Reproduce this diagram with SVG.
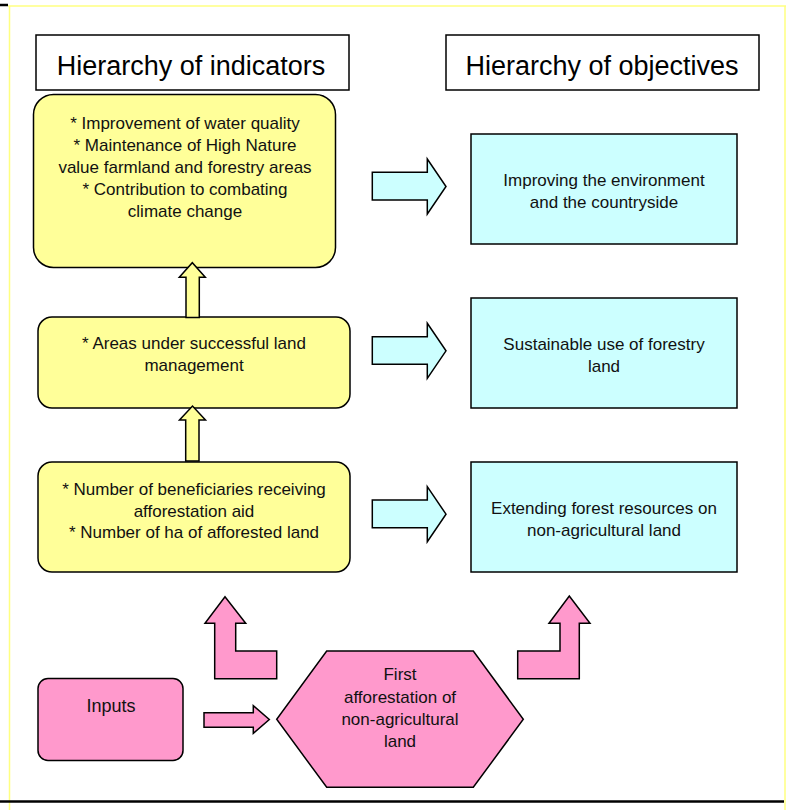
<svg xmlns="http://www.w3.org/2000/svg" width="786" height="810" viewBox="0 0 786 810">
<style>
.frame-y{stroke:#FFFF80;stroke-width:1.5;fill:none}
.frame-k{stroke:#000;stroke-width:2.5;fill:none}
.hdr{fill:#fff;stroke:#000;stroke-width:1.5}
.hdr-t{font-family:"Liberation Sans",Arial,sans-serif;font-size:27px;fill:#000;text-anchor:middle}
.yel{fill:#FFFF99;stroke:#000;stroke-width:1.5}
.cya{fill:#CCFFFF;stroke:#000;stroke-width:1.5}
.pnk{fill:#FF99CC;stroke:#000;stroke-width:1.5}
.t{font-family:"Liberation Sans",Arial,sans-serif;font-size:17px;fill:#111;text-anchor:middle}
</style>
<rect width="786" height="810" fill="#fff"/>
<g id="frame">
<line class="frame-y" x1="8" y1="6" x2="786" y2="6"/>
<line class="frame-y" x1="9.5" y1="6" x2="9.5" y2="810"/>
<line class="frame-y" x1="785" y1="6" x2="785" y2="810"/>
<line class="frame-k" x1="0" y1="5" x2="8" y2="5"/>
<line class="frame-k" x1="0" y1="801.5" x2="784" y2="801.5"/>
</g>
<g id="header-indicators">
<rect class="hdr" x="36" y="35" width="313" height="55"/>
<text class="hdr-t" x="191" y="75">Hierarchy of indicators</text>
</g>
<g id="header-objectives">
<rect class="hdr" x="446" y="35" width="313" height="55"/>
<text class="hdr-t" x="602" y="75">Hierarchy of objectives</text>
</g>
<g id="ind-impact">
<rect class="yel" x="33.5" y="94.5" width="302" height="173" rx="20"/>
<text class="t" x="185" y="129">* Improvement of water quality</text>
<text class="t" x="185" y="151">* Maintenance of High Nature</text>
<text class="t" x="185" y="173">value farmland and forestry areas</text>
<text class="t" x="185" y="195">* Contribution to combating</text>
<text class="t" x="185" y="217">climate change</text>
</g>
<g id="ind-result">
<rect class="yel" x="38" y="317" width="312" height="91" rx="14"/>
<text class="t" x="194" y="349">* Areas under successful land</text>
<text class="t" x="194" y="371">management</text>
</g>
<g id="ind-output">
<rect class="yel" x="38" y="462" width="312" height="110" rx="14"/>
<text class="t" x="194" y="495">* Number of beneficiaries receiving</text>
<text class="t" x="194" y="517">afforestation aid</text>
<text class="t" x="194" y="538">* Number of ha of afforested land</text>
</g>
<g id="obj-general">
<rect class="cya" x="471" y="134" width="266" height="110"/>
<text class="t" x="604" y="186">Improving the environment</text>
<text class="t" x="604" y="208">and the countryside</text>
</g>
<g id="obj-specific">
<rect class="cya" x="471" y="298" width="266" height="110"/>
<text class="t" x="604" y="350">Sustainable use of forestry</text>
<text class="t" x="604" y="372">land</text>
</g>
<g id="obj-operational">
<rect class="cya" x="471" y="462" width="266" height="110"/>
<text class="t" x="604" y="514">Extending forest resources on</text>
<text class="t" x="604" y="536">non-agricultural land</text>
</g>
<g id="inputs">
<rect class="pnk" x="38" y="678.5" width="145" height="82" rx="10"/>
<text class="t" x="111" y="712" style="font-size:18px">Inputs</text>
</g>
<g id="measure">
<polygon class="pnk" points="326.7,651 473.3,651 523.3,719.3 473.3,787.3 326.7,787.3 276.7,719.3"/>
<text class="t" x="400" y="680">First</text>
<text class="t" x="400" y="702.5">afforestation of</text>
<text class="t" x="400" y="725">non-agricultural</text>
<text class="t" x="400" y="746.5">land</text>
</g>
<g id="connectors">
<polygon class="yel" points="186,317.5 186,277.3 179.3,277.3 192.3,262.7 205.3,277.3 199.3,277.3 199.3,317.5"/>
<polygon class="yel" points="185.7,461 185.7,420 179.5,420 192.5,406 205.5,420 199,420 199,461"/>
<polygon class="cya" points="372.3,172.3 427.3,172.3 427.3,159 446,186.5 427.3,214 427.3,200 372.3,200"/>
<polygon class="cya" points="372.3,336.7 427.3,336.7 427.3,323.3 446,350.8 427.3,378.3 427.3,364.3 372.3,364.3"/>
<polygon class="cya" points="372.3,500 427.3,500 427.3,486.7 446,514.2 427.3,541.7 427.3,527.7 372.3,527.7"/>
<polygon class="pnk" points="204,712.7 253.3,712.7 253.3,705.7 269.3,719.5 253.3,733.3 253.3,727.3 204,727.3"/>
<polygon class="pnk" points="214.7,623.3 214.7,678.7 276.7,678.7 276.7,651 235.7,651 235.7,623.3 245.7,623.3 225,596.7 205,623.3"/>
<polygon class="pnk" points="579.3,623.3 579.3,678.7 517.7,678.7 517.7,651 560,651 560,623.3 549,623.3 569.3,596 590,623.3"/>
</g>
</svg>
